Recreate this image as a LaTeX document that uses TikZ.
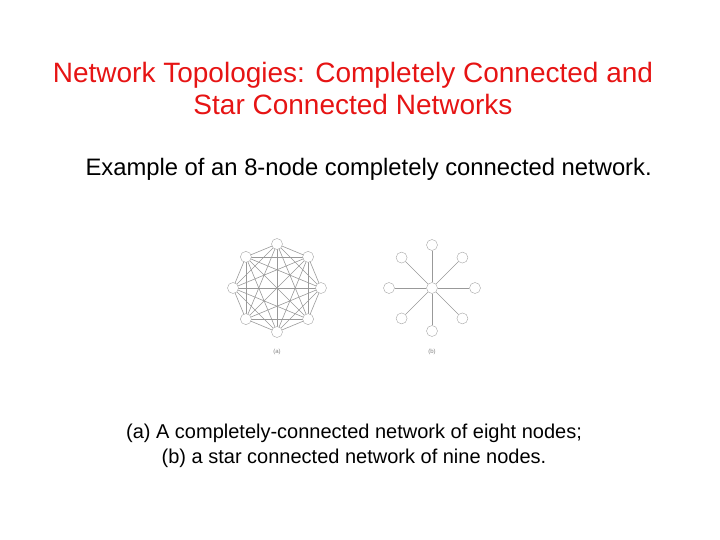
\documentclass[tikz,border=0pt]{standalone}
\usepackage{fontspec}
\setmainfont{Liberation Sans}
\definecolor{ttl}{RGB}{230,20,20}
\begin{document}
\begin{tikzpicture}[x=1pt,y=-1pt,
  vtx/.style={circle,draw=gray!70,minimum size=11pt,inner sep=0pt,fill=white},
  edge/.style={draw=gray!80,line width=0.6pt},
  lbl/.style={font=\fontsize{6}{7}\selectfont,text=gray}]
\useasboundingbox (0,0) rectangle (720,540);
\node[text=ttl,font=\fontsize{28}{32}\selectfont,align=center] (title) at (353,88) {Network Topologies: Completely Connected and\\Star Connected Networks};
\node[font=\fontsize{23.8}{28}\selectfont,anchor=west] (sub) at (82,169) {Example of an 8-node completely connected network.};
% complete graph
\foreach \i in {0,...,7} \coordinate (p\i) at ({277+44*cos(90+45*\i)},{288-44*sin(90+45*\i)});
\foreach \i in {0,...,7}{\foreach \j in {0,...,7}{\ifnum\i<\j \draw[edge] (p\i) -- (p\j);\fi}}
\foreach \i in {0,...,7} \node[vtx] (a\i) at (p\i) {};
% star
\node[vtx] (c) at (432,288) {};
\foreach \i in {0,...,7}{\node[vtx] (s\i) at ({432+43*cos(90+45*\i)},{288-43*sin(90+45*\i)}) {}; \draw[edge] (c) -- (s\i);}
\node[lbl] (la) at (277,352) {(a)};
\node[lbl] (lb) at (432,352) {(b)};
\node[font=\fontsize{20}{25}\selectfont,align=center] (cap) at (354,446) {(a) A completely-connected network of eight nodes;\\(b) a star connected network of nine nodes.};
\end{tikzpicture}
\end{document}
